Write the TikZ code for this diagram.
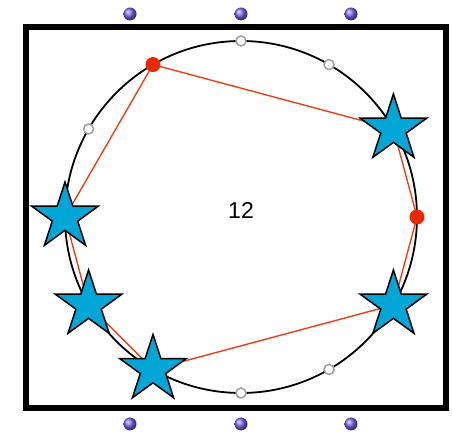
\documentclass[tikz,border=0pt]{standalone}
\usepackage{fontspec}
\setmainfont{Liberation Sans}
\usetikzlibrary{shapes.geometric,calc}
\definecolor{starblue}{HTML}{00A6D6}
\definecolor{dotred}{HTML}{E82A00}
\definecolor{ballpurple}{HTML}{7A66F0}
\begin{document}
\begin{tikzpicture}[x=1pt,y=1pt,
  frame/.style={line width=6pt,draw=black},
  ring/.style={line width=1.8pt,draw=black},
  graymark/.style={circle,draw=gray!75,fill=white,line width=1.5pt,minimum size=10pt,inner sep=0pt},
  reddot/.style={circle,fill=dotred,minimum size=15pt,inner sep=0pt},
  redline/.style={draw=dotred!90!white,line width=1.4pt},
  bluestar/.style={star,star points=5,star point ratio=2.618,fill=starblue,draw=black,line width=1.5pt,minimum size=70pt,inner sep=0pt},
  ball/.style={circle,ball color=ballpurple,minimum size=13pt,inner sep=0pt},
  lab/.style={font=\fontsize{23}{23}\selectfont}
]
\useasboundingbox (0,0) rectangle (452,435);
\draw[frame] (26,27) rectangle (446,408);
\coordinate (c) at (241,218);
\draw[ring] (c) circle (176);
\foreach \k in {0,...,11}{\coordinate (p\k) at ($(c)+(\k*30:176)$);}
\node[lab] (num) at (241,225) {12};
% gray markers
\node[graymark] (g90) at (p3) {};
\node[graymark] (g60) at (p2) {};
\node[graymark] (g150) at (p5) {};
\node[graymark] (g270) at (p9) {};
\node[graymark] (g300) at (p10) {};
% red polygon
\draw[redline] (p4) -- (p1) -- (p0) -- (p11) -- (p8) -- (p7) -- (p6) -- cycle;
\node[reddot] (r120) at (p4) {};
\node[reddot] (r0) at (p0) {};
% stars
\node[bluestar] (s30) at (p1) {};
\node[bluestar] (s330) at (p11) {};
\node[bluestar] (s240) at (p8) {};
\node[bluestar] (s210) at (p7) {};
\node[bluestar] (s180) at (p6) {};
% purple balls
\node[ball] (bt1) at (130,421) {};
\node[ball] (bt2) at (241,421) {};
\node[ball] (bt3) at (351,421) {};
\node[ball] (bb1) at (130,11) {};
\node[ball] (bb2) at (241,11) {};
\node[ball] (bb3) at (351,11) {};
\end{tikzpicture}
\end{document}
